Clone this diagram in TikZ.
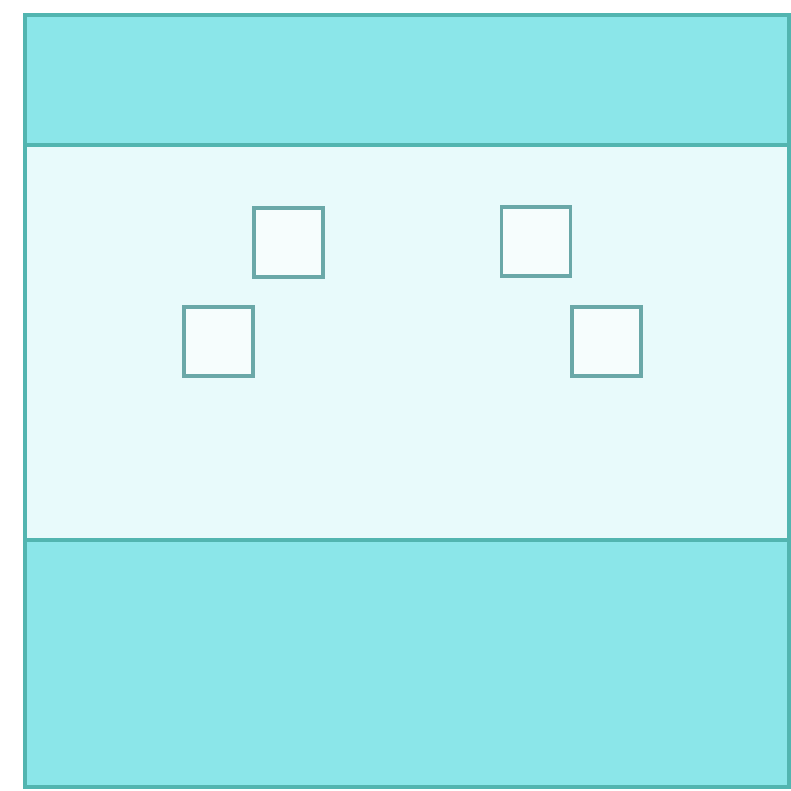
\documentclass[tikz,border=0pt]{standalone}
\usepackage{xcolor}
\definecolor{Band}{HTML}{8BE6E9}
\definecolor{Edge}{HTML}{52B5B0}
\definecolor{Pale}{HTML}{E8FAFB}
\definecolor{Frame}{HTML}{6AA8A8}
\usepackage{tikz}

\begin{document}
\begin{tikzpicture}[x=1pt,y=-1pt,
 band/.style={fill=Band,draw=Edge,line width=3.5pt},
 win/.style={rectangle,draw=Frame,fill=white!60!Pale,line width=3.8pt,minimum size=69pt,inner sep=0pt}]
\useasboundingbox (0,0) rectangle (791,790);
\fill[white] (0,0) rectangle (791,790);
% middle part
\fill[Pale] (25,145) rectangle (789,540);
\draw[band] (25,15) rectangle (789,145);
\draw[band] (25,540) rectangle (789,787);
\draw[Edge,line width=3.5pt] (25,15) rectangle (789,787);
% the four small squares
\node[win] (w1) at (288.5,242.5) {};
\node[win] (w2) at (536,241.5) {};
\node[win] (w3) at (218.5,341.5) {};
\node[win] (w4) at (606.5,341.5) {};
\end{tikzpicture}
\end{document}
